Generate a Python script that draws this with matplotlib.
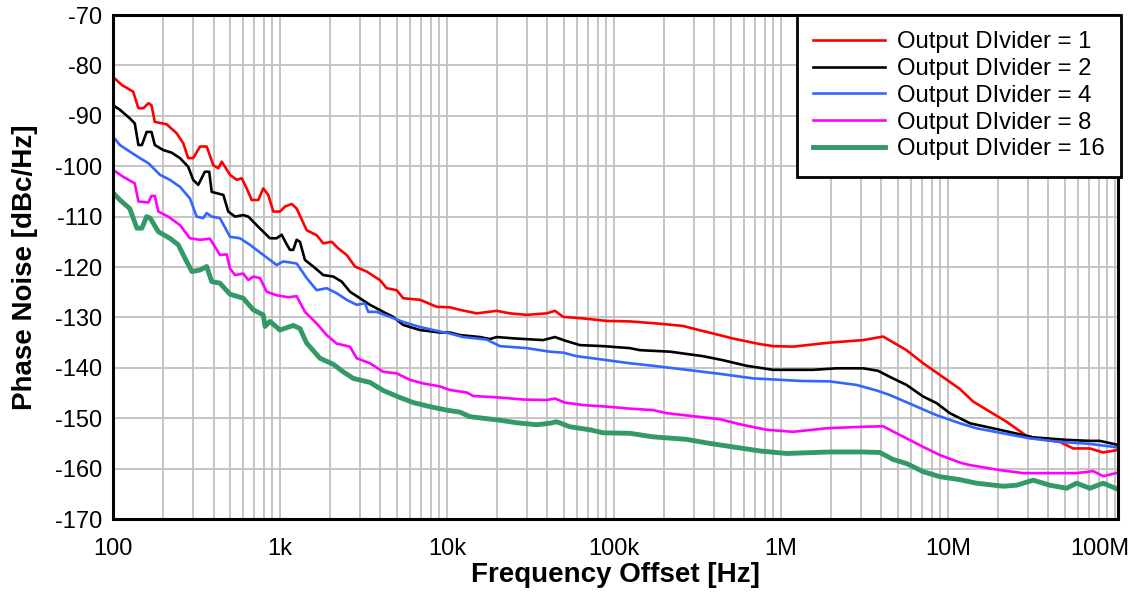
import matplotlib
matplotlib.use("Agg")
import matplotlib.pyplot as plt
import matplotlib.ticker as mticker
import matplotlib.transforms as mtransforms
import numpy as np

plt.rcParams['font.family'] = ['Liberation Sans', 'DejaVu Sans']
plt.rcParams['axes.unicode_minus'] = False

# offset frequency (Hz) and phase noise (dBc/Hz) per output divider setting
f_div1 = [101, 113, 132, 142, 152, 163, 170, 178, 210, 241, 264, 282, 302, 332, 364, 399, 427, 448,
          502, 550, 590, 632, 677, 742, 794, 851, 912, 1000, 1072, 1175, 1259, 1445, 1659, 1817,
          2040, 2234, 2507, 2813, 3305, 3971, 4355, 4998, 5474, 6891, 8678, 10420, 11960, 15060,
          19840, 23840, 30010, 39540, 44340, 49720, 65520, 90420, 124700, 180200, 260000, 312800,
          393200, 518100, 748600, 899300, 1.185e6, 1.965e6, 3.11e6, 4.098e6, 5.657e6, 7.114e6,
          8.954e6, 1.18e7, 1.417e7, 1.784e7, 2.246e7, 2.96e7, 3.397e7, 4.686e7, 5.627e7, 7.087e7,
          8.51e7, 1.045e8]
pn_div1 = [-82.4, -83.9, -85.2, -88.5, -88.5, -87.5, -87.9, -91.2, -91.7, -93.5, -95.5, -98.4, -98.4,
           -96.1, -96.1, -99.8, -100.4, -99.1, -101.7, -102.7, -102.4, -104.4, -106.7, -106.7,
           -104.4, -105.7, -109.0, -109.0, -108.0, -107.5, -108.4, -112.7, -113.7, -115.3, -115.0,
           -116.3, -117.6, -119.9, -120.9, -122.6, -124.2, -124.6, -126.2, -126.5, -127.9, -128.0,
           -128.5, -129.2, -128.7, -129.2, -129.5, -129.2, -128.7, -129.9, -130.2, -130.7, -130.8,
           -131.2, -131.7, -132.4, -133.2, -134.2, -135.3, -135.7, -135.8, -135.0, -134.5, -133.8,
           -136.5, -139.1, -141.4, -144.2, -146.7, -148.7, -150.7, -153.5, -154.0, -154.7, -156.0,
           -156.0, -156.8, -156.3]

f_div2 = [101, 110, 126, 135, 142, 149, 159, 170, 178, 200, 224, 252, 282, 302, 324, 355, 377, 390,
          458, 490, 538, 603, 646, 725, 794, 871, 955, 1024, 1097, 1148, 1201, 1259, 1317, 1411, 1582,
          1817, 2086, 2342, 2626, 3013, 3459, 4155, 4770, 5474, 6891, 9080, 10420, 11960, 15760,
          18090, 19840, 26150, 37730, 44340, 50880, 62580, 86290, 124700, 143100, 216500, 342500,
          451200, 623000, 899300, 1.561e6, 2.155e6, 3.11e6, 3.824e6, 4.494e6, 5.657e6, 7.114e6,
          8.557e6, 1.028e7, 1.18e7, 1.354e7, 2.048e7, 3.242e7, 5.139e7, 7.087e7, 8.133e7, 1.045e8]
pn_div2 = [-88.0, -88.8, -90.5, -91.5, -95.8, -95.8, -93.2, -93.2, -95.8, -96.8, -97.3, -98.4, -100.1,
           -102.7, -103.7, -101.1, -101.1, -105.1, -105.7, -109.0, -110.0, -109.7, -110.0, -111.7,
           -113.0, -114.3, -114.3, -113.6, -115.5, -116.6, -116.6, -114.6, -115.0, -118.6, -119.9,
           -121.6, -121.9, -122.9, -124.9, -126.2, -127.5, -128.9, -129.9, -131.5, -132.5, -133.0,
           -133.0, -133.5, -133.9, -134.3, -133.9, -134.2, -134.5, -133.9, -134.6, -135.5, -135.7,
           -136.1, -136.5, -136.8, -137.7, -138.5, -139.6, -140.4, -140.4, -140.1, -140.1, -140.6,
           -141.8, -143.4, -145.7, -147.0, -149.0, -150.0, -151.0, -152.3, -153.8, -154.3, -154.5,
           -154.5, -155.3]

f_div4 = [101, 110, 126, 145, 163, 191, 219, 252, 289, 317, 347, 364, 390, 437, 502, 576, 661, 794,
          955, 1047, 1259, 1445, 1659, 1904, 2185, 2507, 2880, 3228, 3379, 3793, 4557, 5474, 6891,
          9080, 10420, 12520, 17290, 20770, 30010, 41380, 49720, 59780, 82480, 124700, 171900,
          272500, 431100, 682700, 1.2996e6, 1.965e6, 2.84e6, 3.742e6, 4.494e6, 6.197e6, 8.557e6,
          1.18e7, 1.486e7, 2.143e7, 3.097e7, 4.686e7, 7.087e7, 1.045e8]
pn_div4 = [-94.3, -95.8, -97.1, -98.4, -99.4, -101.7, -102.7, -104.1, -106.4, -110.0, -110.3, -109.3,
           -110.0, -110.3, -114.0, -114.3, -115.6, -117.6, -119.6, -118.9, -119.3, -122.2, -124.6,
           -124.2, -125.2, -126.5, -127.5, -127.2, -128.9, -128.9, -129.9, -130.9, -131.9, -132.8,
           -133.2, -133.9, -134.4, -135.7, -136.1, -136.8, -137.0, -137.7, -138.3, -139.1, -139.6,
           -140.4, -141.2, -142.1, -142.6, -142.7, -143.4, -144.5, -145.4, -147.4, -149.4, -151.0,
           -152.0, -153.0, -154.0, -154.7, -155.1, -155.8]

f_div8 = [101, 115, 135, 142, 163, 170, 178, 187, 214, 252, 289, 332, 381, 437, 480, 502, 538, 603,
          646, 692, 759, 832, 955, 1121, 1259, 1411, 1659, 1904, 2185, 2626, 2880, 3459, 4155, 4998,
          6003, 7213, 9080, 10420, 13120, 14370, 20770, 28640, 39540, 44340, 50880, 65520, 90420,
          124700, 171900, 206800, 298500, 431100, 568200, 821200, 1.185e6, 1.878e6, 3.11e6, 4.098e6,
          4.93e6, 5.657e6, 7.114e6, 8.954e6, 1.18e7, 1.354e7, 2.048e7, 2.824e7, 4.081e7, 5.898e7,
          7.417e7, 8.51e7, 1.045e8]
pn_div8 = [-100.8, -102.1, -103.4, -107.0, -107.2, -105.9, -105.9, -109.0, -110.0, -111.7, -114.3,
           -114.6, -114.4, -117.6, -117.5, -120.3, -121.6, -121.3, -122.6, -121.9, -122.2, -124.9,
           -125.6, -126.0, -125.8, -128.9, -131.2, -133.5, -135.2, -135.8, -138.1, -139.1, -140.8,
           -141.1, -142.4, -143.1, -143.7, -144.4, -144.9, -145.6, -145.9, -146.3, -146.4, -146.1,
           -146.9, -147.4, -147.7, -148.1, -148.4, -149.0, -149.6, -150.2, -151.2, -152.3, -152.7,
           -152.0, -151.7, -151.6, -153.0, -154.0, -155.7, -157.3, -158.8, -159.3, -160.3, -160.9,
           -160.9, -160.9, -160.5, -161.5, -160.8]

f_div16 = [101, 110, 126, 139, 149, 159, 167, 187, 219, 246, 270, 297, 332, 364, 390, 437, 502, 603,
           692, 794, 814, 871, 1000, 1201, 1317, 1445, 1735, 2086, 2393, 2748, 3459, 4155, 5231,
           6284, 7911, 9958, 11960, 13730, 20770, 26150, 34440, 41380, 45390, 54500, 71830, 86290,
           124700, 171900, 272500, 358900, 518100, 748600, 1.082e6, 1.965e6, 3.11e6, 3.915e6,
           4.704e6, 5.657e6, 7.114e6, 8.954e6, 1.18e7, 1.486e7, 2.143e7, 2.579e7, 3.242e7, 4.081e7,
           5.139e7, 5.898e7, 7.087e7, 8.51e7, 1.045e8]
pn_div16 = [-105.4, -106.7, -108.4, -112.3, -112.3, -110.0, -110.3, -113.0, -114.3, -115.6, -118.3,
            -120.9, -120.6, -119.9, -122.9, -123.2, -125.4, -126.2, -128.5, -129.5, -131.8, -130.8,
            -132.5, -131.6, -132.2, -135.1, -138.1, -139.3, -140.8, -142.1, -142.9, -144.5, -145.9,
            -146.9, -147.7, -148.4, -148.8, -149.7, -150.4, -150.9, -151.3, -151.0, -150.7, -151.7,
            -152.3, -152.9, -153.0, -153.7, -154.2, -154.9, -155.7, -156.5, -157.0, -156.7, -156.7,
            -156.8, -158.2, -159.0, -160.6, -161.6, -162.2, -162.9, -163.5, -163.3, -162.3, -163.3,
            -163.9, -162.9, -163.9, -162.9, -164.1]

labels = ["Output DIvider = 1", "Output DIvider = 2", "Output DIvider = 4",
          "Output DIvider = 8", "Output DIvider = 16"]
colors = ['#ff0000', '#000000', '#3366ff', '#ff00ff', '#339966']
widths = [1.9, 1.9, 1.9, 1.9, 3.5]
x_ticks = [1e2, 1e3, 1e4, 1e5, 1e6, 1e7, 1e8]
x_ticklabels = ["100", "1k", "10k", "100k", "1M", "10M", "100M"]
y_ticks = np.arange(-170, -60, 10)

fig = plt.figure(figsize=(11.34, 5.94), dpi=100)
ax = fig.add_axes([113 / 1134, 1 - 519 / 594, 1005 / 1134, 504 / 594])

series = [(f_div1, pn_div1), (f_div2, pn_div2), (f_div4, pn_div4), (f_div8, pn_div8), (f_div16, pn_div16)]
for (f, pn), lab, c, w in zip(series, labels, colors, widths):
    ax.plot(f, pn, color=c, lw=w, label=lab)

ax.set_xscale('log')
ax.set_xlim(100, 1.045e8)
ax.set_ylim(-170, -70)
ax.set_xticks(x_ticks)
ax.set_xticklabels(x_ticklabels)
ax.xaxis.set_minor_locator(mticker.LogLocator(base=10, subs=np.arange(2, 10)))
ax.xaxis.set_minor_formatter(mticker.NullFormatter())
ax.set_yticks(y_ticks)
ax.grid(True, which='both', axis='x', color='#c0c0c0', lw=1.3)
ax.grid(True, which='major', axis='y', color='#c0c0c0', lw=1.3)
ax.set_axisbelow(True)
ax.tick_params(which='both', length=0, labelsize=17)
ax.tick_params(axis='x', pad=14)
ax.tick_params(axis='y', pad=8)
for s in ax.spines.values():
    s.set_linewidth(2.2)

# shift the last x label left so it stays inside the figure
last = ax.get_xticklabels()[-1]
last.set_transform(last.get_transform() + mtransforms.ScaledTranslation(-0.15, 0, fig.dpi_scale_trans))

ax.set_xlabel("Frequency Offset [Hz]", fontsize=20, fontweight='bold', labelpad=1)
ax.set_ylabel("Phase Noise [dBc/Hz]", fontsize=20, fontweight='bold', labelpad=12)

leg = ax.legend(loc='upper right', bbox_to_anchor=(1.003, 1.0), borderaxespad=0, fontsize=17.2,
                handlelength=3.0, handletextpad=0.5, labelspacing=0.2, borderpad=0.68,
                fancybox=False, framealpha=1, edgecolor='black')
leg.get_frame().set_linewidth(2)

fig.savefig("out.png", dpi=100)
